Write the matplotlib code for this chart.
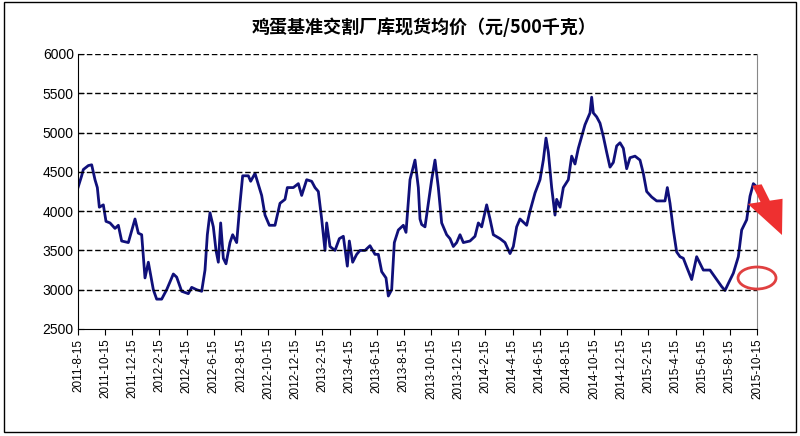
import matplotlib
matplotlib.use("Agg")
import matplotlib.pyplot as plt
from matplotlib.patches import Ellipse, FancyArrow

plt.rcParams['font.family'] = ['Noto Sans CJK SC', 'DejaVu Sans']

# readings: (horizontal position, price); position 234 = 2011-8-15, 40.74 per month
readings = [
 (234,4300),(245,4450),(250,4530),(265,4580),(275,4590),(285,4400),(292,4300),(298,4050),(310,4080),(318,3870),
 (330,3850),(345,3780),(355,3820),(365,3620),(385,3600),(395,3750),(405,3900),(415,3720),(425,3700),(435,3150),
 (445,3350),(460,3000),(470,2880),(485,2880),(500,3000),(520,3200),(530,3160),(545,2980),(565,2950),(575,3030),
 (590,3000),(605,2980),(615,3250),(622,3700),(630,3980),(640,3800),(648,3500),(655,3350),(662,3850),(670,3400),
 (678,3330),(690,3600),(698,3700),(710,3600),(720,4100),(728,4450),(745,4450),(752,4380),(765,4480),(785,4200),
 (795,3950),(808,3820),(825,3820),(840,4100),(855,4150),(862,4300),(880,4300),(895,4350),(905,4200),(920,4400),
 (935,4380),(945,4300),(955,4250),(965,3900),(975,3500),(980,3850),(990,3550),(1005,3500),(1018,3650),(1030,3680),
 (1042,3300),(1048,3620),(1058,3350),(1070,3450),(1080,3500),(1095,3500),(1110,3560),(1125,3450),(1135,3450),
 (1145,3230),(1158,3150),(1165,2920),(1175,3000),(1183,3600),(1195,3760),(1210,3820),(1218,3730),(1230,4400),
 (1245,4650),(1255,4300),(1260,3900),(1265,3830),(1275,3800),(1285,4100),(1295,4400),(1305,4650),(1315,4300),
 (1325,3850),(1340,3700),(1350,3650),(1360,3550),(1370,3600),(1380,3700),(1390,3600),(1410,3620),(1425,3680),
 (1435,3850),(1445,3800),(1460,4080),(1470,3900),(1480,3700),(1500,3650),(1515,3600),(1530,3460),(1540,3550),
 (1550,3800),(1560,3900),(1580,3820),(1590,4000),(1605,4230),(1620,4400),(1630,4650),(1638,4930),(1645,4750),
 (1655,4300),(1665,3950),(1670,4150),(1680,4050),(1690,4300),(1705,4400),(1715,4700),(1725,4600),(1735,4800),
 (1745,4950),(1755,5100),(1765,5200),(1710+60,5250),(1775,5450),(1780,5250),(1790,5200),(1800,5120),(1810,4950),
 (1820,4750),(1830,4560),(1840,4620),(1850,4830),(1860,4870),(1870,4800),(1880,4540),(1890,4680),(1905,4700),
 (1920,4650),(1930,4480),(1940,4250),(1955,4180),(1970,4130),(1985,4130),(1995,4130),(2002,4300),(2010,4100),
 (2020,3760),(2030,3480),(2040,3420),(2050,3400),(2060,3290),(2075,3130),(2090,3420),(2110,3250),(2130,3250),
 (2150,3130),(2165,3040),(2175,2990),(2185,3080),(2200,3210),(2215,3420),(2225,3760),(2240,3890),(2250,4190),
 (2260,4350),(2270,4310),(2280,4270),(2290,4020),(2305,3720),(2320,3510),(2328,3210)]
months = [(p - 234) / 40.74 for p, _ in readings]
price = [v for _, v in readings]

tick_labels = []
y, m = 2011, 8
for i in range(26):
    tick_labels.append(f"{y}-{m}-15")
    m += 2
    if m > 12:
        m -= 12; y += 1

fig = plt.figure(figsize=(8, 4.36), dpi=100)
ax = fig.add_axes([78/800, 1-329/436, (757-78)/800, (329-54)/436])
ax.plot(months, price, color='#10107a', lw=2)
ax.set_xlim(0, 50)
ax.set_ylim(2500, 6000)
ax.set_yticks(range(2500, 6001, 500))
ax.set_xticks(range(0, 51, 2))
ax.set_xticklabels(tick_labels, rotation=90, fontsize=8.5, family=['Liberation Sans'])
for lab in ax.get_yticklabels():
    lab.set_fontfamily('Liberation Sans'); lab.set_fontsize(10)
for v in range(3000, 6001, 500):
    ax.axhline(v, color='black', ls=(0, (4, 2)), lw=1)
ax.tick_params(direction='in', length=4, pad=3)
ax.tick_params(axis='x', direction='out')
ax.spines['right'].set_color('#888888'); ax.spines['top'].set_visible(False)

fig.text(0.53, 1-27/436, '鸡蛋基准交割厂库现货均价（元/500千克）', ha='center', va='center',
         fontsize=13, fontweight='bold')

fig.patches.append(Ellipse((757/800, 1-278/436), 38/800, 22/436, transform=fig.transFigure,
                           fill=False, ec='#e04040', lw=2))
fig.patches.append(FancyArrow(757/800, 1-185/436, 25/800, -50/436, width=0.012, head_width=0.045,
                              head_length=0.08, transform=fig.transFigure, color='#ee3030', lw=0,
                              length_includes_head=True))
fig.patches.append(plt.Rectangle((0.005, 0.01), 0.99, 0.985, transform=fig.transFigure,
                                 fill=False, ec='black', lw=1))
fig.savefig('out.png', dpi=100)
